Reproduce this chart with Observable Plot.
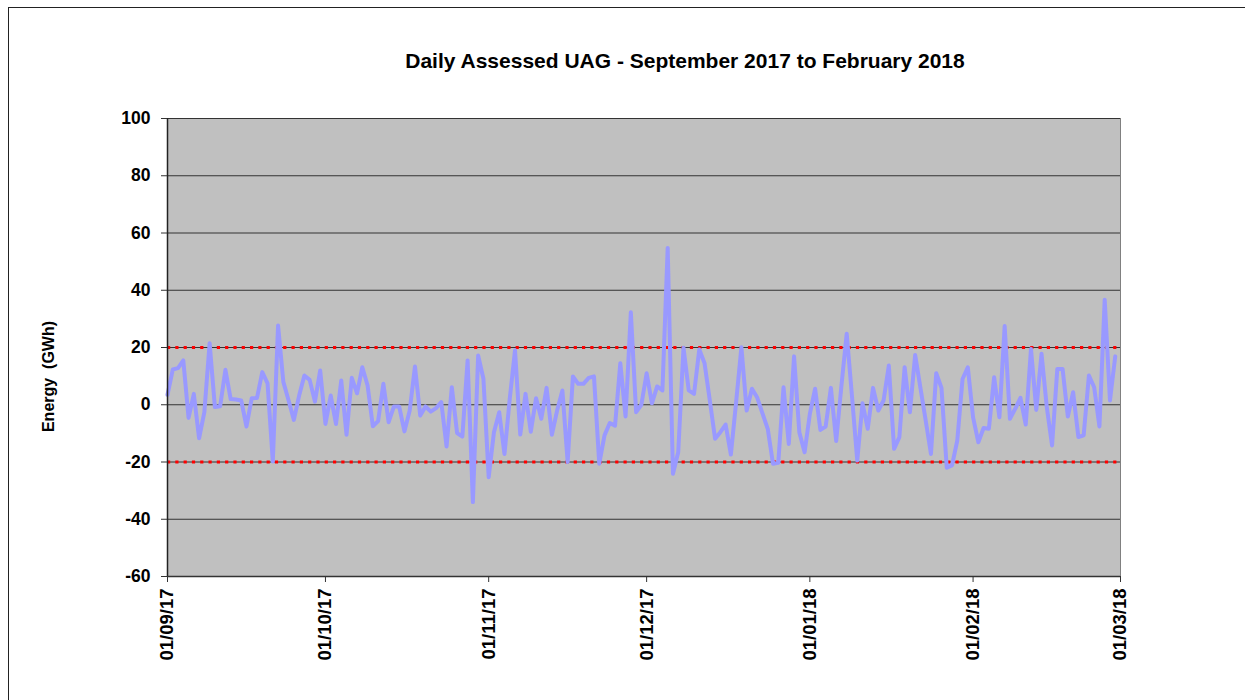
<!DOCTYPE html>
<html>
<head>
<meta charset="utf-8">
<script src="https://cdn.jsdelivr.net/npm/d3@7"></script>
<script src="https://cdn.jsdelivr.net/npm/@observablehq/plot@0.6"></script>
<style>
  html, body { margin: 0; padding: 0; background: #fff; }
  body { width: 1245px; height: 700px; overflow: hidden; position: relative; font-family: Arial, "Liberation Sans", sans-serif; }
  #frame { position: absolute; left: 8px; top: 7px; width: 1250px; height: 720px; border-left: 1.5px solid #222; border-top: 1.5px solid #222; }
  #title { position: absolute; left: 0; top: 0; width: 1245px; height: 80px; }
  #title div { position: absolute; left: 335px; width: 700px; top: 49px; text-align: center; font-weight: bold; font-size: 21px; color: #000; }
  #chart { position: absolute; left: 0; top: 80px; }
  #chart svg text { font-family: Arial, "Liberation Sans", sans-serif; font-weight: bold; }
</style>
</head>
<body>
<div id="frame"></div>
<div id="title"><div id="titleText"></div></div>
<div id="chart"></div>
<script>
// Daily values (GWh), one per day starting 01/09/2017
const startDate = "2017-09-01";
const uagValues = [
  3.5, 12.3, 12.8, 15.5, -4.6, 3.8, -11.7, -2.6, 21.5, -0.8,
  -0.5, 12.2, 2, 1.8, 1.5, -7.6, 2.3, 2.4, 11.4, 7.5,
  -19.8, 27.7, 8, 1.5, -5.3, 3.2, 10.2, 8.7, 1.1, 12,
  -6.7, 3.2, -6.7, 8.5, -10.5, 9.4, 4, 13.1, 6.7, -7.5,
  -5.7, 7.3, -6.1, -0.6, -0.6, -9.3, -2, 13.4, -3.8, -0.6,
  -2.4, -1.2, 0.9, -14.6, 6.1, -9.9, -11.1, 15.5, -34, 17.2,
  9.1, -25.3, -9.6, -2.6, -17.2, 2, 19, -10.4, 3.8, -9.4,
  2.3, -4.9, 5.9, -10.5, -2, 5, -20, 9.9, 7.3, 7.3,
  9.4, 9.9, -20.6, -10.7, -6.4, -7.3, 14.5, -4.1, 32.3, -2.6,
  0, 11, 0.5, 6.4, 5, 54.8, -24.1, -16.6, 19.9, 5,
  3.8, 19.3, 14.5, 1.5, -11.9, -9.6, -6.9, -17.4, 1, 20.1,
  -2, 5.6, 2.5, -3, -8.4, -20.6, -20.3, 6.1, -13.7, 16.9,
  -9.6, -16.6, -3.2, 5.6, -8.8, -7.6, 5.9, -12.7, 6.7, 24.8,
  3, -19.5, 0.5, -8.4, 5.9, -2, 1.5, 13.7, -15.4, -11.3,
  13.1, -2.6, 17.4, 5.9, -5.5, -17.2, 11, 5.9, -22, -21.2,
  -12.5, 9, 13.1, -4.4, -13.1, -8.1, -8.4, 9.6, -4.4, 27.5,
  -4.9, -1.4, 2.4, -6.9, 19.5, -1.8, 17.8, -0.8, -14.2, 12.5,
  12.5, -4.1, 4.4, -11.3, -10.7, 10.2, 6.1, -7.6, 36.7, 1.5,
  16.9
];
const xTickLabels = ["01/09/17", "01/10/17", "01/11/17", "01/12/17", "01/01/18", "01/02/18", "01/03/18"];
const yTicks = [-60, -40, -20, 0, 20, 40, 60, 80, 100];
const limitLines = [20, -20];
const titleText = "Daily Assessed UAG - September 2017 to February 2018";
const yLabel = "Energy  (GWh)";

document.getElementById("titleText").textContent = titleText;

const parseLabel = d3.utcParse("%d/%m/%y");
const start = d3.utcParse("%Y-%m-%d")(startDate);
const data = uagValues.map((v, i) => ({date: d3.utcDay.offset(start, i), value: v}));
const xTicks = xTickLabels.map(parseLabel);

const chart = Plot.plot({
  width: 1245,
  height: 620,
  marginLeft: 167,
  marginRight: 125,
  marginTop: 38,
  marginBottom: 124,
  style: {background: "transparent", fontFamily: "Arial, 'Liberation Sans', sans-serif"},
  x: {type: "utc", domain: [xTicks[0], xTicks[xTicks.length - 1]]},
  y: {domain: [-60, 100]},
  marks: [
    Plot.frame({fill: "#C0C0C0", stroke: "#808080"}),
    Plot.gridY(yTicks, {stroke: "#333", strokeOpacity: 1, strokeWidth: 1}),
    Plot.ruleY(limitLines, {stroke: "#ff0000", strokeWidth: 3.2, strokeDasharray: "3.2,5.1"}),
    Plot.line(data, {x: "date", y: "value", stroke: "#9999FF", strokeWidth: 4, strokeLinejoin: "round", curve: "linear"}),
    Plot.ruleX([xTicks[0]], {stroke: "#222", strokeWidth: 1.5}),
    Plot.ruleY([-60], {stroke: "#333", strokeWidth: 1.5}),
    Plot.axisY({ticks: yTicks, tickFormat: d => `${d}`, tickSize: 6, tickPadding: 11, fontSize: 17.5, fontWeight: "bold", label: null, stroke: "#333"}),
    Plot.axisX({ticks: xTicks, tickFormat: d3.utcFormat("%d/%m/%y"), tickRotate: -90, tickSize: 6, tickPadding: 6, fontSize: 18.5, fontWeight: "bold", label: null, stroke: "#333"}),
    Plot.text([yLabel], {frameAnchor: "left", dx: -119, dy: 29, rotate: -90, textAnchor: "middle", fontSize: 16, fontWeight: "bold", fill: "#000"})
  ]
});
document.getElementById("chart").appendChild(chart);
</script>
</body>
</html>
